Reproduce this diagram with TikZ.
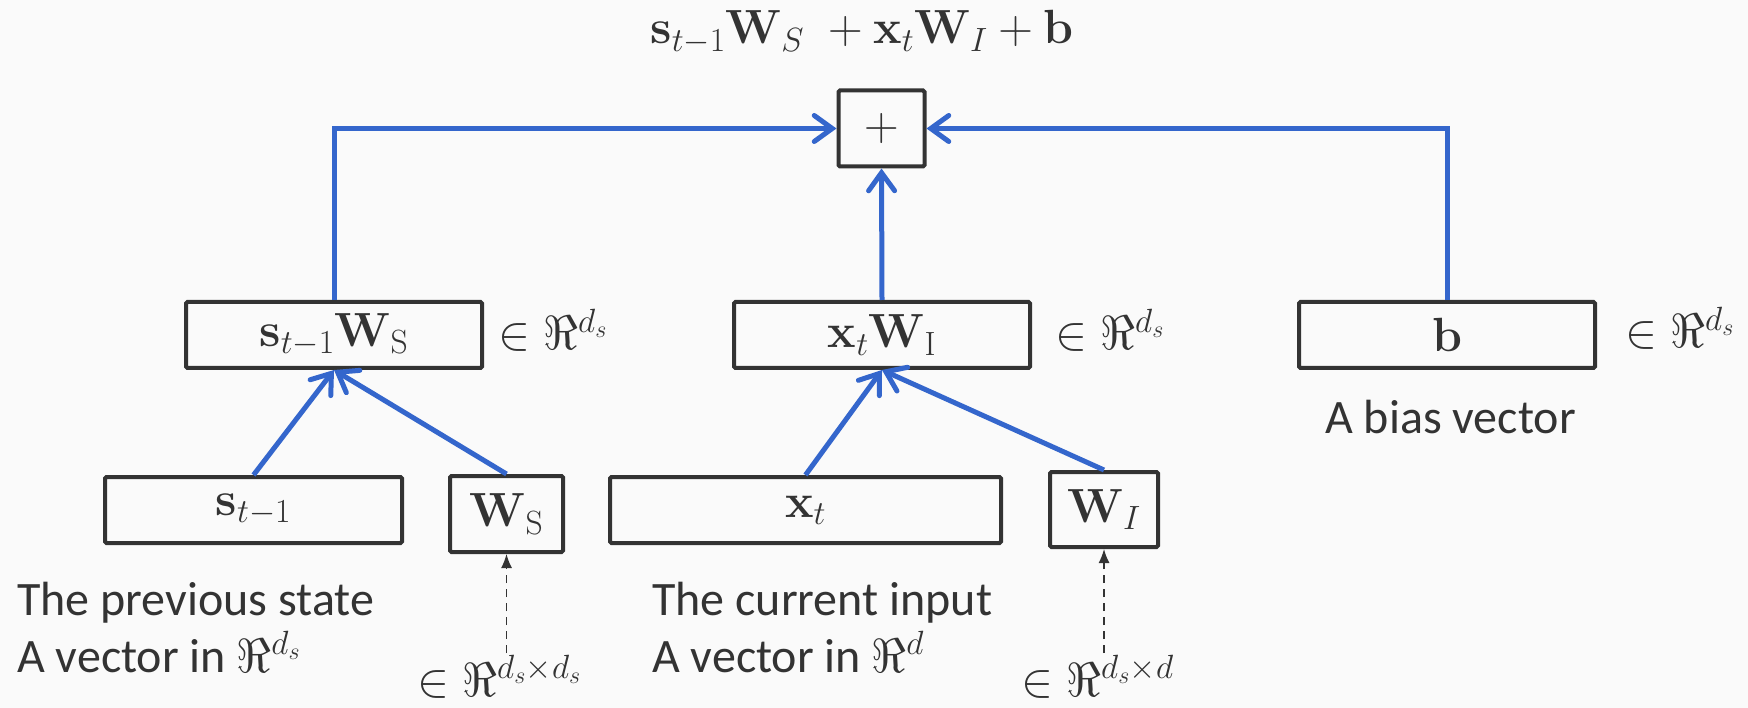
\RequirePackage{fix-cm}
\documentclass[tikz,border=0pt]{standalone}
\usepackage[no-math]{fontspec}
\setmainfont{Carlito}
\usetikzlibrary{arrows.meta}
\definecolor{myblue}{RGB}{52,102,204}
\definecolor{ink}{RGB}{51,51,51}
\definecolor{bg}{RGB}{250,250,250}
\begin{document}
\begin{tikzpicture}[x=1pt,y=-1pt,
  box/.style={draw=ink, line width=4pt, rounded corners=1.5pt, inner sep=0pt, text=ink, font=\fontsize{48}{54}\selectfont},
  flow/.style={draw=myblue, line width=5pt, -{Straight Barb[length=18pt,width=26pt,line cap=round]}},
  dim/.style={draw=ink, line width=1.5pt, dash pattern=on 8pt off 6pt, -{Latex[length=14pt,width=11pt]}},
  lbl/.style={text=ink, anchor=base west, inner sep=0pt, font=\fontsize{48}{54}\selectfont},
]
\fill[bg] (0,0) rectangle (1748,708);
\useasboundingbox (0,0) rectangle (1748,708);

\node[lbl, anchor=base] (title) at (862,44) {$\mathbf{s}_{t-1}\mathbf{W}_S\;+\mathbf{x}_t\mathbf{W}_I+\mathbf{b}$};

\node[box, minimum width=86pt, minimum height=76pt] (plus) at (881.5,128.5) {$+$};
\node[box, minimum width=296pt, minimum height=66pt] (sw) at (334,335) {$\mathbf{s}_{t-1}\mathbf{W}_{\mathrm{S}}$};
\node[box, minimum width=296pt, minimum height=66pt] (xw) at (882,335) {$\mathbf{x}_t\mathbf{W}_{\mathrm{I}}$};
\node[box, minimum width=296pt, minimum height=66pt] (b) at (1447,335) {$\mathbf{b}$};
\node[box, minimum width=297pt, minimum height=66pt] (s) at (253.5,510) {$\mathbf{s}_{t-1}$};
\node[box, minimum width=113pt, minimum height=76pt] (ws) at (506.5,514) {$\mathbf{W}_{\mathrm{S}}$};
\node[box, minimum width=391pt, minimum height=66pt] (x) at (805.5,510) {$\mathbf{x}_t$};
\node[box, minimum width=108pt, minimum height=75pt] (wi) at (1104,509.5) {$\mathbf{W}_I$};

\draw[flow] (sw.north) |- (plus.west);
\draw[flow] (b.north) |- (plus.east);
\draw[flow] (xw.north) -- (plus.south);
\draw[flow] (s.north) -- (sw.south);
\draw[flow] (ws.north) -- (sw.south);
\draw[flow] (x.north) -- (xw.south);
\draw[flow] (wi.north) -- (xw.south);

\coordinate (wsd) at (506.5,653);
\coordinate (wid) at (1104,653);
\draw[dim] (wsd) -- (ws.south);
\draw[dim] (wid) -- (wi.south);

\node[lbl] (swl) at (498,350) {$\in\Re^{d_s}$};
\node[lbl] (xwl) at (1055,350) {$\in\Re^{d_s}$};
\node[lbl] (bl) at (1625,348) {$\in\Re^{d_s}$};
\node[lbl] (wsl) at (417,696) {$\in\Re^{d_s\times d_s}$};
\node[lbl] (wil) at (1021,696) {$\in\Re^{d_s\times d}$};

\node[lbl] (prev1) at (17,615) {The previous state};
\node[lbl] (prev2) at (17,672) {A vector in $\Re^{d_s}$};
\node[lbl] (cur1) at (652,615) {The current input};
\node[lbl] (cur2) at (652,672) {A vector in $\Re^{d}$};
\node[lbl] (bias) at (1325,433) {A bias vector};
\end{tikzpicture}
\end{document}
